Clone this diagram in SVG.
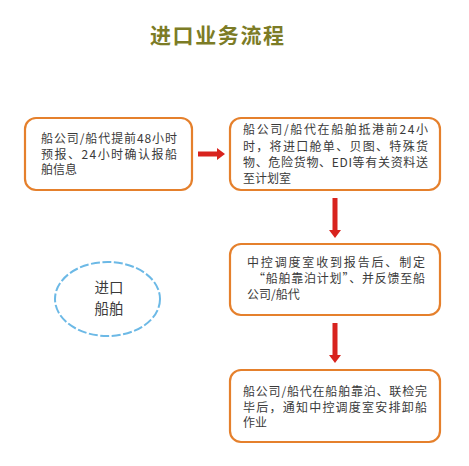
<svg xmlns="http://www.w3.org/2000/svg" width="469" height="466" viewBox="0 0 469 466">
<defs>
<style>
.box{fill:#fff;stroke:#e5802c;stroke-width:2.2}
.t{font-family:"Noto Sans CJK SC","Noto Sans",sans-serif;font-size:12px;fill:#3a3a3a}
.title{font-family:"Noto Sans CJK SC",sans-serif;font-size:21px;font-weight:bold;fill:#7c7c26}
.arr{fill:#d8231e}
.ell{fill:none;stroke:#6cb9e6;stroke-width:2;stroke-dasharray:9 2.5}
</style>
</defs>
<rect width="469" height="466" fill="#fff"/>
<text class="title" x="150" y="43" textLength="134" lengthAdjust="spacing">进口业务流程</text>
<g id="connectors">
<polygon class="arr" points="198,151.5 217,151.5 217,148 225,154 217,160 217,156.5 198,156.5"/>
<polygon class="arr" points="332.5,198 337.5,198 337.5,230 341,230 335,238 329,230 332.5,230"/>
<polygon class="arr" points="332.5,323 337.5,323 337.5,355 341,355 335,363 329,355 332.5,355"/>
</g>
<g id="n1">
<rect class="box" x="25" y="118" width="167" height="72" rx="11"/>
<text class="t" x="41" y="142.5" textLength="136" lengthAdjust="spacing">船公司/船代提前48小时</text>
<text class="t" x="41" y="158.5" textLength="136" lengthAdjust="spacing">预报、24小时确认报船</text>
<text class="t" x="41" y="174">舶信息</text>
</g>
<g id="n2">
<rect class="box" x="230" y="118" width="210" height="72" rx="11"/>
<text class="t" x="243" y="134" textLength="185" lengthAdjust="spacing">船公司/船代在船舶抵港前24小</text>
<text class="t" x="243" y="150.5" textLength="185" lengthAdjust="spacing">时，将进口舱单、贝图、特殊货</text>
<text class="t" x="243" y="167" textLength="185" lengthAdjust="spacing">物、危险货物、EDI等有关资料送</text>
<text class="t" x="243" y="183" textLength="48" lengthAdjust="spacing">至计划室</text>
</g>
<g id="n3">
<rect class="box" x="230" y="244" width="210" height="71" rx="11"/>
<text class="t" x="247" y="267" textLength="178" lengthAdjust="spacing">中控调度室收到报告后、制定</text>
<text class="t" x="253" y="283" textLength="172" lengthAdjust="spacing">“船舶靠泊计划”、并反馈至船</text>
<text class="t" x="247" y="299">公司/船代</text>
</g>
<g id="n4">
<rect class="box" x="230" y="370" width="210" height="72" rx="11"/>
<text class="t" x="243" y="396" textLength="184" lengthAdjust="spacing">船公司/船代在船舶靠泊、联检完</text>
<text class="t" x="243" y="411.5" textLength="184" lengthAdjust="spacing">毕后，通知中控调度室安排卸船</text>
<text class="t" x="243" y="427">作业</text>
</g>
<g id="n5">
<ellipse class="ell" cx="107.5" cy="299" rx="52.5" ry="37"/>
<text class="t" x="109" y="293" text-anchor="middle" style="font-size:14.5px">进口</text>
<text class="t" x="109" y="314" text-anchor="middle" style="font-size:14.5px">船舶</text>
</g>
</svg>
